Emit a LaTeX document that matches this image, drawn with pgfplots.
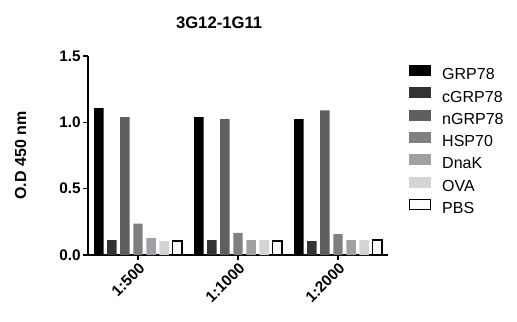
\documentclass[border=0pt]{standalone}
\usepackage{pgfplots}
\pgfplotsset{compat=1.18}
\usepackage{fontspec}
\setmainfont{Liberation Sans}
\definecolor{cA}{HTML}{000000}
\definecolor{cB}{HTML}{333333}
\definecolor{cC}{HTML}{5F5F5F}
\definecolor{cD}{HTML}{808080}
\definecolor{cE}{HTML}{A0A0A4}
\definecolor{cF}{HTML}{D4D4D4}
\pgfplotsset{
  mybar/.style={fill=#1, draw=none,
    legend image code/.code={\fill[#1] (0pt,-0.5pt) rectangle (16.5pt,7.75pt);}},
}
\begin{document}
\begin{tikzpicture}
\useasboundingbox (0,0) rectangle (387.75pt,240.75pt);
\begin{axis}[
  at={(66pt,49.5pt)}, anchor=south west,
  scale only axis, width=225pt, height=149.25pt,
  ybar=2.7pt, bar width=7.1pt,
  xmin=-0.5, xmax=2.5, ymin=0, ymax=1.5,
  axis x line*=bottom, axis y line*=left,
  axis line style={line width=1.5pt},
  tick style={line width=1.2pt, black},
  tick align=outside, major tick length=3.75pt,
  xtick={0,1,2}, xticklabels={1:500,1:1000,1:2000},
  ytick={0,0.5,1,1.5}, yticklabels={0.0,0.5,1.0,1.5},
  xtick pos=bottom, ytick pos=left,
  /pgf/number format/assume math mode=true,
  tick label style={font=\fontsize{11.5}{13}\selectfont\bfseries},
  xticklabel style={rotate=45, anchor=north east, inner sep=1pt},
  yticklabel style={inner sep=1.5pt},
  ylabel={O.D 450 nm},
  ylabel style={font=\fontsize{12}{14}\selectfont\bfseries, at={(axis description cs:-0.225,0.5)}, anchor=center},
  title={3G12-1G11},
  title style={font=\fontsize{12.5}{15}\selectfont\bfseries, at={(axis description cs:0.437,1.125)}, anchor=center},
  legend cell align=left,
  legend style={draw=none, fill=none, at={(1.07,0.955)}, anchor=north west,
    font=\fontsize{12}{14}\selectfont, row sep=3.2pt, inner sep=0pt,
    nodes={inner sep=0pt, text height=9pt, text depth=2.5pt},
    /tikz/every odd column/.append style={column sep=8.2pt}},
]
\addplot+[mybar=cA] coordinates {(0,1.108) (1,1.04) (2,1.025)};
\addplot+[mybar=cB] coordinates {(0,0.113) (1,0.113) (2,0.105)};
\addplot+[mybar=cC] coordinates {(0,1.04) (1,1.025) (2,1.09)};
\addplot+[mybar=cD] coordinates {(0,0.236) (1,0.166) (2,0.158)};
\addplot+[mybar=cE] coordinates {(0,0.128) (1,0.113) (2,0.113)};
\addplot+[mybar=cF] coordinates {(0,0.105) (1,0.113) (2,0.113)};
\addplot+[fill=white, draw=black, line width=0.9pt,
  legend image code/.code={\draw[black, line width=0.9pt, fill=white] (0.45pt,-0.05pt) rectangle (16.05pt,7.3pt);}]
  coordinates {(0,0.105) (1,0.105) (2,0.113)};
\legend{GRP78,cGRP78,nGRP78,HSP70,DnaK,OVA,PBS}
\end{axis}
\end{tikzpicture}
\end{document}
